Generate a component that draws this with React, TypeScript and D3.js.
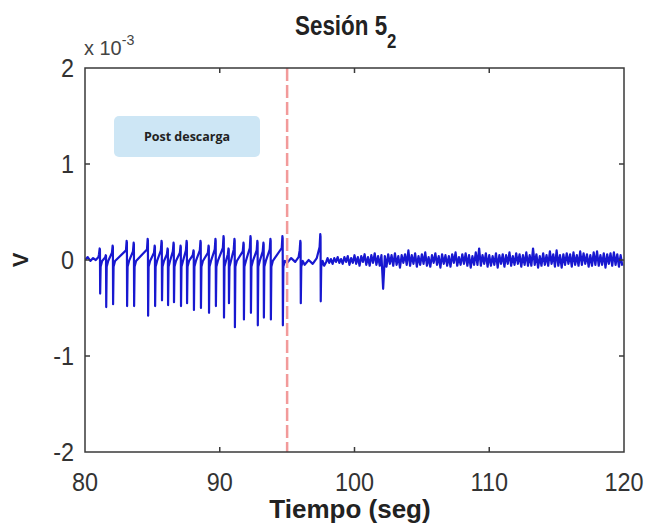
import React, { useEffect, useRef } from "react";
import * as d3 from "d3";

// ---- Data, units: x in seconds, y in 1e-3 V ----
const xTicks = [80, 90, 100, 110, 120];
const yTicks = [-2, -1, 0, 1, 2];
const markerTime = 95;
const legendLabel = "Post descarga";

// Spike events: time, peak, trough
const spikeTimes = [81.11, 81.56, 82.07, 83.11, 83.63, 84.67, 85.19, 85.7, 86.15, 86.59, 87.11, 87.56, 88.07, 88.59, 89.19, 89.7, 90.3, 90.67, 91.11, 91.78, 92.3, 92.81, 93.26, 93.78, 94.67, 96.0, 97.48];
const spikePeaks = [0.12, 0.05, 0.15, 0.2, 0.18, 0.22, 0.15, 0.2, 0.12, 0.18, 0.15, 0.2, 0.1, 0.2, 0.15, 0.22, 0.25, 0.12, 0.22, 0.18, 0.25, 0.2, 0.18, 0.22, 0.25, 0.2, 0.27];
const spikeTroughs = [-0.35, -0.49, -0.46, -0.48, -0.48, -0.58, -0.48, -0.42, -0.47, -0.44, -0.48, -0.45, -0.52, -0.5, -0.55, -0.48, -0.6, -0.45, -0.7, -0.62, -0.55, -0.68, -0.6, -0.62, -0.68, -0.45, -0.43];

// Baseline samples before / between spikes
const baselineTimes = [80.0, 80.2, 80.4, 80.6, 80.8, 81.0, 95.0, 95.3, 95.6, 95.85, 96.3, 96.6, 96.9, 97.2, 97.75, 97.9];
const baselineValues = [0.0, 0.03, -0.01, 0.02, 0.0, 0.03, -0.03, 0.02, -0.02, 0.03, -0.05, 0.0, -0.04, 0.02, -0.06, -0.02];

// Post-discharge noise, 8 samples per second starting at 98 s
const noiseStart = 98;
const noiseStep = 0.125;
const noiseValues = [
  0.02, -0.03, 0.01, -0.04, 0.02, -0.02, 0.03, -0.03,
  0.01, -0.04, 0.03, -0.02, 0.04, -0.05, 0.02, -0.03,
  0.05, -0.04, 0.03, -0.06, 0.04, -0.02, 0.06, -0.05,
  0.03, -0.06, 0.05, -0.03, 0.07, -0.05, 0.04, -0.06,
  0.05, -0.3, 0.04, -0.07, 0.06, -0.04, 0.05, -0.06,
  0.07, -0.05, 0.04, -0.08, 0.05, -0.03, 0.06, -0.05,
  0.1, -0.06, 0.05, -0.04, 0.07, -0.07, 0.04, -0.05,
  0.06, -0.04, 0.08, -0.06, 0.03, -0.07, 0.05, -0.03,
  0.07, -0.05, 0.04, -0.08, 0.06, -0.04, 0.05, -0.06,
  0.04, -0.07, 0.06, -0.03, 0.08, -0.06, 0.03, -0.05,
  0.06, -0.04, 0.07, -0.06, 0.05, -0.08, 0.04, -0.05,
  0.08, -0.05, 0.12, -0.06, 0.05, -0.04, 0.07, -0.07,
  0.05, -0.06, 0.04, -0.05, 0.07, -0.08, 0.05, -0.04,
  0.06, -0.07, 0.05, -0.04, 0.08, -0.06, 0.04, -0.05,
  0.07, -0.04, 0.06, -0.07, 0.05, -0.05, 0.08, -0.06,
  0.05, -0.06, 0.12, -0.05, 0.06, -0.08, 0.04, -0.06,
  0.07, -0.05, 0.05, -0.06, 0.09, -0.04, 0.06, -0.07,
  0.1, -0.06, 0.05, -0.08, 0.06, -0.05, 0.07, -0.04,
  0.06, -0.07, 0.08, -0.05, 0.05, -0.06, 0.09, -0.05,
  0.07, -0.04, 0.06, -0.07, 0.05, -0.06, 0.08, -0.05,
  0.09, -0.06, 0.05, -0.05, 0.07, -0.08, 0.06, -0.04,
  0.07, -0.06, 0.08, -0.05, 0.06, -0.07, 0.05, -0.06,
];

const W = 647;
const H = 527;
const M = { left: 85, right: 624, top: 68, bottom: 452 };
const FONT = "'Liberation Sans', Arial, sans-serif";

function buildSeries(): [number, number][] {
  const pts: [number, number][] = [];
  baselineTimes.forEach((t, i) => pts.push([t, baselineValues[i]]));
  spikeTimes.forEach((t, i) => {
    const p = spikePeaks[i];
    const tr = spikeTroughs[i];
    pts.push([t - 0.07, p * 0.5]);
    pts.push([t - 0.02, p]);
    pts.push([t, p * 0.9]);
    pts.push([t + 0.015, tr]);
    pts.push([t + 0.05, -0.07]);
    pts.push([t + 0.16, -0.01]);
  });
  noiseValues.forEach((v, i) => pts.push([noiseStart + i * noiseStep, v]));
  pts.sort((a, b) => a[0] - b[0]);
  return pts;
}

export default function App() {
  const ref = useRef<SVGSVGElement>(null);

  useEffect(() => {
    const svg = d3.select(ref.current);
    svg.selectAll("*").remove();

    const x = d3.scaleLinear().domain([80, 120]).range([M.left, M.right]);
    const y = d3.scaleLinear().domain([-2, 2]).range([M.bottom, M.top]);

    svg.append("rect").attr("width", W).attr("height", H).attr("fill", "#fff");

    const scaledText = (
      tx: number,
      ty: number,
      sx: number,
      anchor: string,
      size: number,
      weight: string,
      fill: string
    ) =>
      svg
        .append("g")
        .attr("transform", `translate(${tx},${ty}) scale(${sx},1)`)
        .append("text")
        .attr("text-anchor", anchor)
        .attr("font-family", FONT)
        .attr("font-size", size)
        .attr("font-weight", weight)
        .attr("fill", fill);

    // signal
    const line = d3
      .line<[number, number]>()
      .x((d) => x(d[0]))
      .y((d) => y(d[1]));
    const clipId = "plotclip";
    svg
      .append("clipPath")
      .attr("id", clipId)
      .append("rect")
      .attr("x", M.left)
      .attr("y", M.top)
      .attr("width", M.right - M.left)
      .attr("height", M.bottom - M.top);
    svg
      .append("path")
      .datum(buildSeries())
      .attr("clip-path", `url(#${clipId})`)
      .attr("fill", "none")
      .attr("stroke", "#1818d0")
      .attr("stroke-width", 2.2)
      .attr("stroke-linejoin", "round")
      .attr("d", line);

    // dashed marker
    svg
      .append("line")
      .attr("x1", x(markerTime))
      .attr("x2", x(markerTime))
      .attr("y1", M.top)
      .attr("y2", M.bottom)
      .attr("stroke", "#f29a9a")
      .attr("stroke-width", 2.5)
      .attr("stroke-dasharray", "13,4");

    // box
    const axisColor = "#3a3a3a";
    svg
      .append("rect")
      .attr("x", M.left)
      .attr("y", M.top)
      .attr("width", M.right - M.left)
      .attr("height", M.bottom - M.top)
      .attr("fill", "none")
      .attr("stroke", axisColor)
      .attr("stroke-width", 1.5);

    const tickLen = 5;
    xTicks.slice(1, -1).forEach((t) => {
      svg.append("line").attr("x1", x(t)).attr("x2", x(t)).attr("y1", M.bottom).attr("y2", M.bottom - tickLen).attr("stroke", axisColor).attr("stroke-width", 1.5);
      svg.append("line").attr("x1", x(t)).attr("x2", x(t)).attr("y1", M.top).attr("y2", M.top + tickLen).attr("stroke", axisColor).attr("stroke-width", 1.5);
    });
    yTicks.slice(1, -1).forEach((t) => {
      svg.append("line").attr("x1", M.left).attr("x2", M.left + tickLen).attr("y1", y(t)).attr("y2", y(t)).attr("stroke", axisColor).attr("stroke-width", 1.5);
      svg.append("line").attr("x1", M.right).attr("x2", M.right - tickLen).attr("y1", y(t)).attr("y2", y(t)).attr("stroke", axisColor).attr("stroke-width", 1.5);
    });

    // tick labels
    xTicks.forEach((t) => {
      scaledText(x(t), 491, 0.9, "middle", 26, "normal", "#333").text(String(t));
    });
    yTicks.forEach((t) => {
      scaledText(74, y(t) + 9, 0.9, "end", 26, "normal", "#333").text(String(t));
    });

    // exponent
    const ex = scaledText(84, 55, 0.95, "start", 21, "normal", "#444");
    ex.append("tspan").text("x 10");
    ex.append("tspan").attr("dy", -10).attr("font-size", 15).text("-3");

    // title
    const title = scaledText(295, 35, 0.8, "start", 28, "bold", "#222");
    title.append("tspan").text("Sesión 5");
    title.append("tspan").attr("dy", 13).attr("font-size", 21).text("2");

    // axis titles
    scaledText(350, 518, 1.0, "middle", 26, "bold", "#222").text("Tiempo (seg)");
    svg
      .append("text")
      .attr("transform", `translate(28, ${y(0)}) rotate(-90)`)
      .attr("text-anchor", "middle")
      .attr("font-family", FONT)
      .attr("font-weight", "bold")
      .attr("font-size", 22)
      .attr("fill", "#222")
      .text("V");

    // legend box
    svg
      .append("rect")
      .attr("x", 114)
      .attr("y", 116)
      .attr("width", 146)
      .attr("height", 41)
      .attr("rx", 5)
      .attr("fill", "#cde6f5");
    svg
      .append("text")
      .attr("x", 187)
      .attr("y", 137)
      .attr("dy", "0.35em")
      .attr("text-anchor", "middle")
      .attr("font-family", "'Open Sans', sans-serif")
      .attr("font-weight", "bold")
      .attr("font-size", 12.5)
      .attr("fill", "#222")
      .text(legendLabel);
  }, []);

  return (
    <svg
      ref={ref}
      width={W}
      height={H}
      style={{ position: "absolute", left: 0, top: 0, display: "block" }}
    />
  );
}
